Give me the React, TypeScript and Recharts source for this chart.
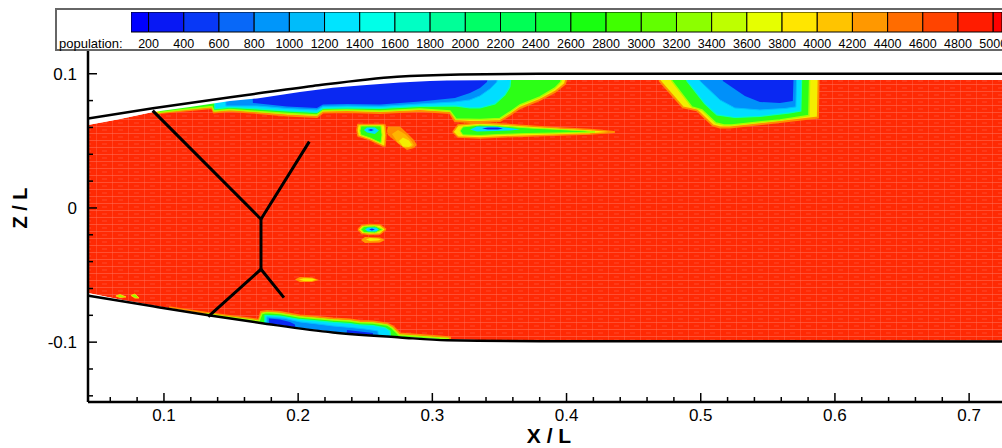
import React from 'react';
import { ComposedChart, Area, Line, XAxis, YAxis, BarChart, Bar } from 'recharts';

const FONT = '"Liberation Sans", Arial, Helvetica, sans-serif';

// ---- axis extents / ticks ----
const X_MIN = 0.0434;
const X_MAX = 0.7245;
const Z_MIN = -0.1446;
const Z_MAX = 0.1177;
const TOP = 0.105;
const BOT = -0.115;

const xTicks = [0.06, 0.08, 0.1, 0.12, 0.14, 0.16, 0.18, 0.2, 0.22, 0.24, 0.26, 0.28, 0.3, 0.32, 0.34, 0.36, 0.38, 0.4, 0.42, 0.44, 0.46, 0.48, 0.5, 0.52, 0.54, 0.56, 0.58, 0.6, 0.62, 0.64, 0.66, 0.68, 0.7];
const xMajor = [0.1, 0.2, 0.3, 0.4, 0.5, 0.6, 0.7];
const xMajorLabels = ['0.1', '0.2', '0.3', '0.4', '0.5', '0.6', '0.7'];
const zTicks = [-0.14, -0.12, -0.1, -0.08, -0.06, -0.04, -0.02, 0, 0.02, 0.04, 0.06, 0.08, 0.1];
const zMajor = [-0.1, 0, 0.1];
const zMajorLabels = ['-0.1', '0', '0.1'];

// ---- legend ----
const legendEdges = [100, 200, 400, 600, 800, 1000, 1200, 1400, 1600, 1800, 2000, 2200, 2400, 2600, 2800, 3000, 3200, 3400, 3600, 3800, 4000, 4200, 4400, 4600, 4800, 5000, 5200];
const legendTicks = [200, 400, 600, 800, 1000, 1200, 1400, 1600, 1800, 2000, 2200, 2400, 2600, 2800, 3000, 3200, 3400, 3600, 3800, 4000, 4200, 4400, 4600, 4800, 5000];
const legendColors = ['#0000FF', '#0818F4', '#0838F6', '#0868F8', '#0096FA', '#00BCFA', '#00E4FF', '#00FFE8', '#00FFC4', '#00FF98', '#00FF66', '#00FF55', '#0CFF36', '#18FF10', '#40FF00', '#62FF00', '#8CFF00', '#BEFF00', '#E6FF00', '#FFE600', '#FFC400', '#FF9800', '#FF6C00', '#FF4400', '#FF1C00', '#FF0000'];

// ---- flow-field outline ----
const fieldX = [0.0434, 0.0672, 0.0918, 0.1194, 0.1343, 0.1492, 0.1693, 0.1768, 0.2013, 0.2259, 0.2460, 0.2759, 0.2982, 0.3109, 0.3355, 0.3802, 0.3951, 0.7245];
const fieldTop = [0.0618, 0.0663, 0.0715, 0.0753, 0.0775, 0.0797, 0.0816, 0.0827, 0.0864, 0.0896, 0.0913, 0.0935, 0.0946, 0.0949, 0.0952, 0.0954, 0.0954, 0.0954];
const fieldBottom = [-0.0633, -0.0682, -0.0727, -0.0771, -0.0796, -0.0820, -0.0849, -0.0859, -0.0894, -0.0922, -0.0941, -0.0960, -0.0973, -0.0981, -0.0984, -0.0988, -0.0988, -0.0990];

const wallUpper = [[0.0434, 0.0667], [0.0918, 0.0743], [0.1618, 0.0842], [0.2110, 0.0909], [0.2737, 0.0978], [0.3206, 0.0995], [0.3802, 0.1], [0.7245, 0.1]];
const wallLower = [[0.0434, -0.0653], [0.0918, -0.0733], [0.1343, -0.0801], [0.1768, -0.0864], [0.2259, -0.0928], [0.2759, -0.0965], [0.3109, -0.0986], [0.3802, -0.0993], [0.7245, -0.0995]];

const strutUpper = [[0.0916, 0.0725], [0.1723, -0.0084], [0.2083, 0.0494]];
const strutStem = [[0.1723, -0.0084], [0.1723, -0.0457]];
const strutLower = [[0.1330, -0.0810], [0.1723, -0.0457], [0.1894, -0.0668]];

// ---- upper low-population band: [x, lower contour] ----
const topYellowA = [[0.0925, TOP], [0.0933, 0.0704], [0.1119, 0.0723], [0.1358, 0.0745], [0.1373, 0.0712], [0.1492, 0.0723], [0.1641, 0.0712], [0.1693, 0.0708], [0.1917, 0.0689], [0.2140, 0.0678], [0.2185, 0.0712], [0.2364, 0.0715], [0.2610, 0.0708], [0.2908, 0.0723], [0.3131, 0.0708], [0.3168, 0.0648], [0.3280, 0.0641], [0.3355, 0.0641], [0.3429, 0.0645], [0.3504, 0.0648], [0.3578, 0.0693], [0.3653, 0.0745], [0.3802, 0.0805], [0.3914, 0.0864], [0.3988, 0.0924], [0.4025, TOP]];
const topGreenA = [[0.0955, TOP], [0.0963, 0.0712], [0.1119, 0.0730], [0.1358, 0.0756], [0.1373, 0.0723], [0.1492, 0.0734], [0.1641, 0.0723], [0.1693, 0.0719], [0.1917, 0.0704], [0.2140, 0.0693], [0.2185, 0.0727], [0.2364, 0.0730], [0.2610, 0.0723], [0.2908, 0.0738], [0.3131, 0.0723], [0.3176, 0.0663], [0.3355, 0.0660], [0.3504, 0.0667], [0.3578, 0.0715], [0.3653, 0.0768], [0.3802, 0.0827], [0.3914, 0.0894], [0.3958, 0.0939], [0.3973, TOP]];
const topCyanA = [[0.1365, TOP], [0.1380, 0.0738], [0.1492, 0.0749], [0.1641, 0.0741], [0.1693, 0.0738], [0.1917, 0.0723], [0.2140, 0.0712], [0.2185, 0.0741], [0.2364, 0.0745], [0.2610, 0.0741], [0.2908, 0.0756], [0.3168, 0.0760], [0.3280, 0.0745], [0.3355, 0.0745], [0.3467, 0.0775], [0.3541, 0.0842], [0.3578, 0.0902], [0.3593, TOP]];
const topLightA = [[0.1447, TOP], [0.1462, 0.0760], [0.1693, 0.0760], [0.1917, 0.0741], [0.2140, 0.0730], [0.2185, 0.0756], [0.2364, 0.0760], [0.2610, 0.0756], [0.2908, 0.0775], [0.3168, 0.0790], [0.3280, 0.0805], [0.3355, 0.0835], [0.3429, 0.0887], [0.3481, 0.0939], [0.3496, TOP]];
const topBlueA = [[0.1648, TOP], [0.1663, 0.0782], [0.1917, 0.0756], [0.2140, 0.0745], [0.2185, 0.0771], [0.2364, 0.0775], [0.2610, 0.0771], [0.2908, 0.0794], [0.3168, 0.0820], [0.3280, 0.0857], [0.3355, 0.0894], [0.3407, 0.0939], [0.3429, TOP]];

// ---- pocket near x = 0.5 ----
const pocketYellow = [[0.4681, TOP], [0.4695, 0.0946], [0.4867, 0.0749], [0.4971, 0.0727], [0.5090, 0.0615], [0.5143, 0.0600], [0.5217, 0.0600], [0.5590, 0.0641], [0.5873, 0.0674], [0.5880, TOP]];
const pocketGreen = [[0.4770, TOP], [0.4785, 0.0946], [0.4934, 0.0753], [0.5009, 0.0730], [0.5113, 0.0633], [0.5173, 0.0618], [0.5232, 0.0618], [0.5590, 0.0656], [0.5806, 0.0689], [0.5813, TOP]];
const pocketCyan = [[0.4882, TOP], [0.4897, 0.0946], [0.5031, 0.0775], [0.5120, 0.0693], [0.5254, 0.0674], [0.5441, 0.0682], [0.5664, 0.0708], [0.5746, 0.0723], [0.5754, TOP]];
const pocketLight = [[0.4979, TOP], [0.4994, 0.0946], [0.5143, 0.0805], [0.5254, 0.0745], [0.5441, 0.0730], [0.5627, 0.0741], [0.5709, 0.0753], [0.5716, TOP]];
const pocketBlue = [[0.5150, TOP], [0.5165, 0.0946], [0.5329, 0.0835], [0.5441, 0.0790], [0.5590, 0.0782], [0.5686, 0.0797], [0.5694, TOP]];

// ---- lower band: [x, upper contour] ----
const botYellow = [[0.1030, BOT], [0.1045, -0.0741], [0.1194, -0.0764], [0.1328, -0.0782], [0.1492, -0.0805], [0.1641, -0.0823], [0.1708, -0.0835], [0.1723, -0.0775], [0.1768, -0.0768], [0.1864, -0.0775], [0.2013, -0.0801], [0.2140, -0.0812], [0.2259, -0.0823], [0.2386, -0.0831], [0.2460, -0.0842], [0.2557, -0.0846], [0.2662, -0.0861], [0.2706, -0.0883], [0.2736, -0.0913], [0.2759, -0.0935], [0.2908, -0.0946], [0.3057, -0.0958], [0.3131, -0.0965], [0.3146, BOT]];
const botGreen = [[0.1306, BOT], [0.1320, -0.0790], [0.1492, -0.0814], [0.1641, -0.0833], [0.1708, -0.0844], [0.1730, -0.0786], [0.1768, -0.0779], [0.1864, -0.0786], [0.2013, -0.0812], [0.2140, -0.0823], [0.2259, -0.0835], [0.2386, -0.0842], [0.2460, -0.0853], [0.2557, -0.0857], [0.2662, -0.0872], [0.2699, -0.0894], [0.2729, -0.0924], [0.2751, -0.0946], [0.2908, -0.0958], [0.3057, -0.0969], [0.3117, -0.0972], [0.3131, BOT]];
const botCyan = [[0.1745, BOT], [0.1753, -0.0801], [0.1864, -0.0805], [0.2013, -0.0831], [0.2140, -0.0842], [0.2259, -0.0853], [0.2386, -0.0861], [0.2460, -0.0872], [0.2557, -0.0876], [0.2647, -0.0894], [0.2684, -0.0917], [0.2699, BOT]];
const botLight = [[0.1760, BOT], [0.1768, -0.0812], [0.1902, -0.0823], [0.2013, -0.0849], [0.2140, -0.0864], [0.2259, -0.0879], [0.2386, -0.0890], [0.2498, -0.0902], [0.2594, -0.0917], [0.2617, BOT]];
const botBlue = [[0.1775, BOT], [0.1783, -0.0823], [0.1864, -0.0831], [0.1939, -0.0849], [0.1976, -0.0868], [0.2013, BOT], [0.2348, BOT], [0.2364, -0.0909], [0.2460, -0.0920], [0.2557, -0.0931], [0.2572, BOT]];

// ---- isolated islands: [x, lower, upper] ----
const streakYellow = [[0.3153, 0.0566, 0.0566], [0.3191, 0.0529, 0.0618], [0.3355, 0.0522, 0.0633], [0.3504, 0.0529, 0.0626], [0.3727, 0.0537, 0.0611], [0.3951, 0.0544, 0.0596], [0.4174, 0.0551, 0.0585], [0.4338, 0.0563, 0.0570], [0.4360, 0.0566, 0.0566]];
const streakGreen = [[0.3206, 0.0574, 0.0574], [0.3228, 0.0544, 0.0604], [0.3355, 0.0540, 0.0618], [0.3504, 0.0548, 0.0611], [0.3727, 0.0555, 0.0596], [0.3951, 0.0559, 0.0585], [0.4137, 0.0563, 0.0574], [0.4212, 0.0566, 0.0566]];
const streakCyan = [[0.3280, 0.0585, 0.0585], [0.3332, 0.0570, 0.0607], [0.3467, 0.0574, 0.0607], [0.3578, 0.0578, 0.0596], [0.3653, 0.0585, 0.0585]];
const streakBlue = [[0.3370, 0.0592, 0.0592], [0.3414, 0.0585, 0.0600], [0.3489, 0.0585, 0.0600], [0.3526, 0.0592, 0.0592]];

const islandAYellow = [[0.2438, 0.0581, 0.0581], [0.2446, 0.0537, 0.0622], [0.2535, 0.0507, 0.0622], [0.2632, 0.0462, 0.0622], [0.2647, 0.0462, 0.0618], [0.2654, 0.0542, 0.0542]];
const islandAGreen = [[0.2460, 0.0574, 0.0574], [0.2468, 0.0544, 0.0611], [0.2535, 0.0522, 0.0611], [0.2617, 0.0484, 0.0611], [0.2625, 0.0544, 0.0544]];
const islandACyan = [[0.2490, 0.0581, 0.0581], [0.2513, 0.0563, 0.0600], [0.2572, 0.0551, 0.0600], [0.2602, 0.0578, 0.0578]];
const islandABlue = [[0.2520, 0.0581, 0.0581], [0.2543, 0.0574, 0.0589], [0.2565, 0.0581, 0.0581]];

const islandBOrange = [[0.2662, 0.0574, 0.0574], [0.2669, 0.0544, 0.0607], [0.2759, 0.0469, 0.0607], [0.2811, 0.0432, 0.0559], [0.2863, 0.0447, 0.0507], [0.2885, 0.0469, 0.0469]];
const islandBLight = [[0.2699, 0.0551, 0.0551], [0.2744, 0.0484, 0.0581], [0.2796, 0.0447, 0.0551], [0.2840, 0.0451, 0.0507], [0.2863, 0.0469, 0.0469]];
const islandBYellow = [[0.2751, 0.0499, 0.0499], [0.2781, 0.0458, 0.0525], [0.2826, 0.0455, 0.0503], [0.2848, 0.0469, 0.0469]];

const islandCYellow = [[0.2446, -0.0160, -0.0160], [0.2475, -0.0190, -0.0130], [0.2535, -0.0197, -0.0123], [0.2610, -0.0194, -0.0127], [0.2654, -0.0160, -0.0160]];
const islandCGreen = [[0.2468, -0.0160, -0.0160], [0.2490, -0.0183, -0.0138], [0.2572, -0.0186, -0.0134], [0.2632, -0.0160, -0.0160]];
const islandCCyan = [[0.2498, -0.0160, -0.0160], [0.2520, -0.0175, -0.0145], [0.2580, -0.0175, -0.0145], [0.2602, -0.0160, -0.0160]];
const islandCBlue = [[0.2528, -0.0160, -0.0160], [0.2550, -0.0168, -0.0153], [0.2572, -0.0160, -0.0160]];

const islandDOrange = [[0.2468, -0.0238, -0.0238], [0.2498, -0.0261, -0.0216], [0.2610, -0.0257, -0.0220], [0.2647, -0.0238, -0.0238]];
const islandDYellow = [[0.2505, -0.0235, -0.0235], [0.2535, -0.0246, -0.0224], [0.2595, -0.0242, -0.0227], [0.2617, -0.0235, -0.0235]];

const islandEOrange = [[0.1976, -0.0533, -0.0533], [0.2013, -0.0551, -0.0514], [0.2103, -0.0551, -0.0518], [0.2155, -0.0537, -0.0537]];
const islandEYellow = [[0.2006, -0.0533, -0.0533], [0.2043, -0.0544, -0.0524], [0.2103, -0.0544, -0.0525], [0.2133, -0.0535, -0.0535]];

const islandF = [[0.0642, -0.0656, -0.0656], [0.0672, -0.0667, -0.0645], [0.0717, -0.0663, -0.0663]];
const islandG = [[0.0754, -0.0652, -0.0652], [0.0784, -0.0671, -0.0641], [0.0814, -0.0671, -0.0671]];

// ---- colours ----
const C_ORANGE = '#FF8C00';
const C_LORANGE = '#FFB400';
const C_YELLOW = '#F4EE00';
const C_GREEN = '#2CFF16';
const C_CYAN = '#00DEFF';
const C_LBLUE = '#0090FA';
const C_BLUE = '#0A28F2';

const toTop = (pts: number[][]) => pts.map(([x, lo]) => ({ x, r: [lo, TOP] }));
const toBot = (pts: number[][]) => pts.map(([x, hi]) => ({ x, r: [BOT, hi] }));
const toIsland = (pts: number[][]) => pts.map(([x, lo, hi]) => ({ x, r: [lo, hi] }));
const toXY = (pts: number[][]) => pts.map(([x, z]) => ({ x, z }));

const fieldData = fieldX.map((x, i) => ({ x, r: [fieldBottom[i], fieldTop[i]] }));
const topMaskData = fieldX.map((x, i) => ({ x, r: [fieldTop[i], Z_MAX] }));
const botMaskData = fieldX.map((x, i) => ({ x, r: [Z_MIN, fieldBottom[i]] }));

const layers = [
  { key: 'ibo', data: toIsland(islandBOrange), fill: C_ORANGE, stroke: 'none', sw: 0 },
  { key: 'ibl', data: toIsland(islandBLight), fill: C_LORANGE, stroke: 'none', sw: 0 },
  { key: 'iby', data: toIsland(islandBYellow), fill: C_YELLOW, stroke: 'none', sw: 0 },
  { key: 'ido', data: toIsland(islandDOrange), fill: '#FF9A00', stroke: 'none', sw: 0 },
  { key: 'idy', data: toIsland(islandDYellow), fill: C_YELLOW, stroke: 'none', sw: 0 },
  { key: 'ieo', data: toIsland(islandEOrange), fill: '#FF9A00', stroke: 'none', sw: 0 },
  { key: 'iey', data: toIsland(islandEYellow), fill: C_YELLOW, stroke: 'none', sw: 0 },
  { key: 'if', data: toIsland(islandF), fill: '#90FF00', stroke: '#FFD000', sw: 1 },
  { key: 'ig', data: toIsland(islandG), fill: '#90FF00', stroke: '#FFD000', sw: 1 },

  { key: 'ty', data: toTop(topYellowA), fill: C_YELLOW, stroke: C_ORANGE, sw: 2 },
  { key: 'py', data: toTop(pocketYellow), fill: C_YELLOW, stroke: C_ORANGE, sw: 2 },
  { key: 'by', data: toBot(botYellow), fill: C_YELLOW, stroke: C_ORANGE, sw: 2 },
  { key: 'sy', data: toIsland(streakYellow), fill: C_YELLOW, stroke: C_ORANGE, sw: 1.5 },
  { key: 'iay', data: toIsland(islandAYellow), fill: C_YELLOW, stroke: C_ORANGE, sw: 1.5 },
  { key: 'icy', data: toIsland(islandCYellow), fill: C_YELLOW, stroke: C_ORANGE, sw: 1.5 },

  { key: 'tg', data: toTop(topGreenA), fill: C_GREEN, stroke: '#A8FF00', sw: 1.5 },
  { key: 'pg', data: toTop(pocketGreen), fill: C_GREEN, stroke: '#A8FF00', sw: 1.5 },
  { key: 'bg', data: toBot(botGreen), fill: C_GREEN, stroke: '#A8FF00', sw: 1.5 },
  { key: 'sg', data: toIsland(streakGreen), fill: C_GREEN, stroke: '#A8FF00', sw: 1 },
  { key: 'iag', data: toIsland(islandAGreen), fill: C_GREEN, stroke: '#A8FF00', sw: 1 },
  { key: 'icg', data: toIsland(islandCGreen), fill: C_GREEN, stroke: '#A8FF00', sw: 1 },

  { key: 'tc', data: toTop(topCyanA), fill: C_CYAN, stroke: '#00FFC0', sw: 1.2 },
  { key: 'pc', data: toTop(pocketCyan), fill: C_CYAN, stroke: '#00FFC0', sw: 1.2 },
  { key: 'bc', data: toBot(botCyan), fill: C_CYAN, stroke: '#00FFC0', sw: 1.2 },
  { key: 'sc', data: toIsland(streakCyan), fill: C_CYAN, stroke: 'none', sw: 0 },
  { key: 'iac', data: toIsland(islandACyan), fill: C_CYAN, stroke: 'none', sw: 0 },
  { key: 'icc', data: toIsland(islandCCyan), fill: C_CYAN, stroke: 'none', sw: 0 },

  { key: 'tl', data: toTop(topLightA), fill: C_LBLUE, stroke: '#00C0FF', sw: 1 },
  { key: 'pl', data: toTop(pocketLight), fill: C_LBLUE, stroke: '#00C0FF', sw: 1 },
  { key: 'bl', data: toBot(botLight), fill: C_LBLUE, stroke: '#00C0FF', sw: 1 },

  { key: 'tb', data: toTop(topBlueA), fill: C_BLUE, stroke: 'none', sw: 0 },
  { key: 'pb', data: toTop(pocketBlue), fill: C_BLUE, stroke: 'none', sw: 0 },
  { key: 'bb', data: toBot(botBlue), fill: C_BLUE, stroke: 'none', sw: 0 },
  { key: 'sb', data: toIsland(streakBlue), fill: C_BLUE, stroke: 'none', sw: 0 },
  { key: 'iab', data: toIsland(islandABlue), fill: C_BLUE, stroke: 'none', sw: 0 },
  { key: 'icb', data: toIsland(islandCBlue), fill: C_BLUE, stroke: 'none', sw: 0 },
];

const near = (arr: number[], v: number) => arr.findIndex((m) => Math.abs(m - v) < 1e-9);

function XTick(props: any) {
  const { x, y, payload } = props;
  const idx = near(xMajor, payload.value);
  const major = idx >= 0;
  return (
    <g>
      <line x1={x} x2={x} y1={y} y2={y - (major ? 9 : 5)} stroke="#000" strokeWidth={1.5} />
      {major && (
        <text x={x} y={y + 19} textAnchor="middle" fontSize={17} fontFamily={FONT} fill="#000">
          {xMajorLabels[idx]}
        </text>
      )}
    </g>
  );
}

function YTick(props: any) {
  const { x, y, payload } = props;
  const idx = near(zMajor, payload.value);
  const major = idx >= 0;
  return (
    <g>
      <line x1={x} x2={x + (major ? 9 : 5)} y1={y} y2={y} stroke="#000" strokeWidth={1.5} />
      {major && (
        <text x={x - 11} y={y + 6} textAnchor="end" fontSize={17} fontFamily={FONT} fill="#000">
          {zMajorLabels[idx]}
        </text>
      )}
    </g>
  );
}

const legendRow = [
  legendEdges.slice(1).reduce(
    (acc: any, e, i) => {
      acc['s' + i] = e - legendEdges[i];
      return acc;
    },
    { name: 'population', pad: legendEdges[0] }
  ),
];

export default function App() {
  return (
    <div style={{ position: 'absolute', left: 0, top: 0, width: 1002, height: 448, overflow: 'hidden', background: '#fff', fontFamily: FONT }}>
      <ComposedChart width={1002} height={448} margin={{ top: 50, right: 0, bottom: 0, left: 0 }}>
        <defs>
          <pattern id="mesh" x={0} y={0} width={16} height={7} patternUnits="userSpaceOnUse">
            <rect width={16} height={7} fill="#FF2A04" />
            <line x1={0} y1={0.5} x2={16} y2={0.5} stroke="#FF6E58" strokeWidth={1} strokeOpacity={0.55} />
            <line x1={0.5} y1={0} x2={0.5} y2={7} stroke="#FF6E58" strokeWidth={1} strokeOpacity={0.4} />
            <line x1={6} y1={4} x2={11} y2={4} stroke="#FF6E58" strokeWidth={1} strokeOpacity={0.45} />
          </pattern>
        </defs>
        <Area data={fieldData} dataKey="r" type="linear" fill="url(#mesh)" fillOpacity={1} stroke="none" isAnimationActive={false} dot={false} activeDot={false} />
        {layers.map((l) => (
          <Area key={l.key} data={l.data} dataKey="r" type="linear" fill={l.fill} fillOpacity={1} stroke={l.stroke} strokeWidth={l.sw} isAnimationActive={false} dot={false} activeDot={false} />
        ))}
        <Area data={topMaskData} dataKey="r" type="linear" fill="#fff" fillOpacity={1} stroke="none" isAnimationActive={false} dot={false} activeDot={false} />
        <Area data={botMaskData} dataKey="r" type="linear" fill="#fff" fillOpacity={1} stroke="none" isAnimationActive={false} dot={false} activeDot={false} />
        <Line data={toXY(wallUpper)} dataKey="z" type="monotone" stroke="#000" strokeWidth={2.5} dot={false} activeDot={false} isAnimationActive={false} />
        <Line data={toXY(wallLower)} dataKey="z" type="monotone" stroke="#000" strokeWidth={2.5} dot={false} activeDot={false} isAnimationActive={false} />
        <Line data={toXY(strutUpper)} dataKey="z" type="linear" stroke="#000" strokeWidth={3} dot={false} activeDot={false} isAnimationActive={false} />
        <Line data={toXY(strutStem)} dataKey="z" type="linear" stroke="#000" strokeWidth={3} dot={false} activeDot={false} isAnimationActive={false} />
        <Line data={toXY(strutLower)} dataKey="z" type="linear" stroke="#000" strokeWidth={3} dot={false} activeDot={false} isAnimationActive={false} />
        <XAxis
          dataKey="x"
          type="number"
          domain={[X_MIN, X_MAX]}
          allowDataOverflow
          ticks={xTicks}
          interval={0}
          tickLine={false}
          tickSize={0}
          tickMargin={0}
          tick={(p: any) => <XTick {...p} />}
          height={46}
          axisLine={{ stroke: '#000', strokeWidth: 2.5 }}
        />
        <YAxis
          type="number"
          domain={[Z_MIN, Z_MAX]}
          allowDataOverflow
          ticks={zTicks}
          interval={0}
          tickLine={false}
          tickSize={0}
          tickMargin={0}
          tick={(p: any) => <YTick {...p} />}
          width={88}
          axisLine={{ stroke: '#000', strokeWidth: 2.5 }}
        />
      </ComposedChart>

      <svg style={{ position: 'absolute', left: 0, top: 0 }} width={1002} height={448}>
        <text x={27} y={208} transform="rotate(-90 27 208)" textAnchor="middle" fontSize={20} fontWeight="bold" fontFamily={FONT} fill="#000">
          Z / L
        </text>
        <text x={549} y={443} textAnchor="middle" fontSize={21} fontWeight="bold" fontFamily={FONT} fill="#000">
          X / L
        </text>
        <rect x={56} y={9} width={980} height={41} fill="#fff" stroke="#666" strokeWidth={2} />
        <text x={59} y={48} fontSize={13} fontFamily={FONT} fill="#000">
          population:
        </text>
      </svg>

      <div style={{ position: 'absolute', left: 131, top: 12 }}>
        <BarChart width={871} height={40} layout="vertical" data={legendRow} margin={{ top: 0, right: 0, bottom: 0, left: 0 }} barCategoryGap={0}>
          <XAxis
            type="number"
            domain={[100, 5050]}
            allowDataOverflow
            ticks={legendTicks}
            interval={0}
            tickLine={false}
            axisLine={false}
            tickSize={0}
            tickMargin={7}
            height={20}
            tick={{ fontSize: 12.5, fill: '#000', fontFamily: FONT }}
          />
          <YAxis type="category" dataKey="name" hide width={0} />
          <Bar dataKey="pad" stackId="a" fill="none" stroke="none" isAnimationActive={false} />
          {legendColors.map((c, i) => (
            <Bar key={'s' + i} dataKey={'s' + i} stackId="a" fill={c} stroke="#000" strokeWidth={1} isAnimationActive={false} />
          ))}
        </BarChart>
      </div>
    </div>
  );
}
